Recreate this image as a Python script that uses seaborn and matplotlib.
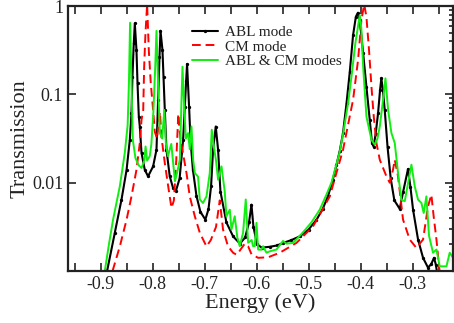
import matplotlib
matplotlib.use("Agg")
import matplotlib.pyplot as plt
import matplotlib.ticker as mticker
import seaborn as sns

sns.set_theme(style="ticks")
plt.rcParams['font.family'] = ['Liberation Serif', 'DejaVu Serif']

# ABL mode (black, dotted markers)
abl_energy = [-0.8875, -0.8727, -0.8598, -0.850, -0.8438, -0.8406, -0.8387, -0.8362, -0.8342,
              -0.831, -0.829, -0.8265, -0.8246, -0.8213, -0.815, -0.8087, -0.799, -0.7925,
              -0.7894, -0.7867, -0.7848, -0.781, -0.779, -0.7765, -0.7733, -0.767, -0.7606,
              -0.755, -0.748, -0.7413, -0.738, -0.7355, -0.7337, -0.7298, -0.7271, -0.7225,
              -0.7156, -0.708, -0.6985, -0.6925, -0.6875, -0.6837, -0.6785, -0.674, -0.6695,
              -0.658, -0.6452, -0.632, -0.622, -0.6145, -0.6098, -0.606, -0.599, -0.59,
              -0.5746, -0.56, -0.549, -0.533, -0.5169, -0.50, -0.4848, -0.473, -0.4625,
              -0.4535, -0.4465, -0.44, -0.4337, -0.427, -0.4208, -0.4144, -0.409, -0.4052,
              -0.4015, -0.395, -0.3887, -0.3823, -0.378, -0.375, -0.371, -0.3663, -0.3625,
              -0.36, -0.357, -0.3535, -0.348, -0.342, -0.335, -0.3246, -0.318, -0.3087,
              -0.304, -0.299, -0.2894, -0.2798, -0.2702, -0.264, -0.2587, -0.255, -0.252]
abl_trans = [0.0010, 0.0027, 0.00643, 0.014, 0.0306, 0.0614, 0.159, 0.379, 0.637,
             0.318, 0.134, 0.0562, 0.0433, 0.0217, 0.014, 0.0118, 0.0153, 0.0236,
             0.0867, 0.267, 0.526, 0.318, 0.159, 0.0668, 0.0236, 0.0118, 0.0087,
             0.0081, 0.0112, 0.0306, 0.0728, 0.141, 0.221, 0.0728, 0.0306, 0.0141,
             0.00708, 0.00468, 0.00382, 0.00501, 0.00912, 0.0236, 0.0433, 0.0236, 0.00794,
             0.00355, 0.00247, 0.00204, 0.0024, 0.00355, 0.00564, 0.00316, 0.0020, 0.00184,
             0.00188, 0.00195, 0.00208, 0.00224, 0.00247, 0.00295, 0.0038, 0.00501, 0.00708,
             0.0107, 0.0158, 0.0229, 0.0365, 0.0794, 0.178, 0.468, 0.759, 0.841,
             0.695, 0.292, 0.122, 0.0515, 0.0282, 0.0257, 0.0355, 0.0614, 0.112,
             0.152, 0.112, 0.0668, 0.0251, 0.0112, 0.00631, 0.00505, 0.00794, 0.0143,
             0.00891, 0.00495, 0.00227, 0.00141, 0.00109, 0.0012, 0.00141, 0.00117, 0.00089]

# CM mode (red dashed)
cm_energy = [-0.877, -0.863, -0.85, -0.8406, -0.831, -0.8246, -0.8213, -0.818, -0.8162,
             -0.8137, -0.8105, -0.8073, -0.8035, -0.799, -0.7958, -0.7915, -0.7858, -0.783,
             -0.7765, -0.77, -0.7637, -0.759, -0.7545, -0.7505, -0.7465, -0.7348, -0.7285,
             -0.7188, -0.709, -0.6963, -0.688, -0.678, -0.6708, -0.6645, -0.655, -0.6452,
             -0.6387, -0.6323, -0.6227, -0.6163, -0.6098, -0.597, -0.5778, -0.5554, -0.5233,
             -0.4912, -0.4592, -0.4337, -0.4144, -0.4048, -0.3983, -0.393, -0.3887, -0.3837,
             -0.379, -0.3746, -0.3694, -0.363, -0.3502, -0.3438, -0.3375, -0.3342, -0.3279,
             -0.3183, -0.3054, -0.2927, -0.2798, -0.2702, -0.2638, -0.2594, -0.254, -0.249,
             -0.246]
cm_trans = [0.0010, 0.0019, 0.00382, 0.0070, 0.014, 0.0281, 0.0515, 0.0668, 0.206,
            0.491, 1.05, 0.318, 0.134, 0.0668, 0.038, 0.0316, 0.0631, 0.0334,
            0.0167, 0.00912, 0.00518, 0.00631, 0.0178, 0.0603, 0.0316, 0.0129, 0.0070,
            0.00417, 0.00269, 0.0019, 0.00224, 0.00316, 0.00631, 0.00295, 0.00191, 0.00161,
            0.00153, 0.0017, 0.00204, 0.00191, 0.00155, 0.00141, 0.00143, 0.00161, 0.00208,
            0.00321, 0.0070, 0.0236, 0.0867, 0.245, 0.695, 1.05, 0.757, 0.318,
            0.122, 0.0562, 0.0281, 0.0182, 0.0118, 0.0100, 0.0141, 0.0182, 0.0118,
            0.00382, 0.00227, 0.00183, 0.00227, 0.0054, 0.00731, 0.00417, 0.00227, 0.00113,
            0.00079]

# ABL & CM modes (green)
both_energy = [-0.8925, -0.884, -0.876, -0.863, -0.8535, -0.848, -0.8455, -0.8433, -0.8406,
               -0.838, -0.833, -0.827, -0.8213, -0.816, -0.8135, -0.8105, -0.8055, -0.8023,
               -0.7985, -0.795, -0.7925, -0.7894, -0.786, -0.7815, -0.7775, -0.7745, -0.7705,
               -0.764, -0.757, -0.7515, -0.7477, -0.745, -0.7425, -0.7395, -0.736, -0.7317,
               -0.7285, -0.7252, -0.7218, -0.7188, -0.7125, -0.7092, -0.703, -0.6963, -0.690,
               -0.6862, -0.682, -0.678, -0.674, -0.6675, -0.6612, -0.658, -0.6515, -0.6483,
               -0.642, -0.637, -0.6323, -0.626, -0.6208, -0.6163, -0.6095, -0.6067, -0.6035,
               -0.6002, -0.597, -0.5906, -0.5875, -0.581, -0.5746, -0.5617, -0.549, -0.5425,
               -0.5298, -0.5105, -0.4945, -0.4785, -0.466, -0.456, -0.4485, -0.44, -0.4337,
               -0.424, -0.4175, -0.41, -0.4015, -0.3985, -0.395, -0.3887, -0.379, -0.3727,
               -0.3675, -0.363, -0.3567, -0.3521, -0.347, -0.3406, -0.3342, -0.3279, -0.3215,
               -0.315, -0.3085, -0.3021, -0.2958, -0.2894, -0.2829, -0.2785, -0.2734, -0.2683,
               -0.2606, -0.254, -0.2477, -0.2348, -0.2285, -0.222]
both_trans = [0.00095, 0.0020, 0.00382, 0.00912, 0.0217, 0.0447, 0.134, 0.649, 0.134,
              0.0306, 0.0191, 0.0158, 0.0147, 0.0178, 0.0257, 0.0178, 0.020, 0.0275,
              0.0631, 0.20, 0.525, 0.134, 0.0365, 0.0316, 0.0668, 0.0282, 0.020,
              0.0275, 0.0104, 0.0141, 0.0182, 0.0631, 0.206, 0.0794, 0.0316, 0.0365,
              0.024, 0.0433, 0.0178, 0.0129, 0.0117, 0.00646, 0.00589, 0.0070, 0.0129,
              0.0398, 0.0251, 0.0178, 0.0108, 0.0153, 0.00794, 0.00417, 0.00495, 0.00295,
              0.00417, 0.0024, 0.00191, 0.0027, 0.00646, 0.00209, 0.00224, 0.00191, 0.00191,
              0.00351, 0.00175, 0.00174, 0.00191, 0.00161, 0.00167, 0.00175, 0.00219, 0.00204,
              0.00208, 0.00275, 0.00355, 0.00495, 0.00724, 0.0100, 0.0145, 0.0224, 0.0355,
              0.0794, 0.158, 0.38, 0.791, 0.562, 0.206, 0.0562, 0.0306, 0.0269,
              0.0316, 0.0433, 0.0867, 0.152, 0.0668, 0.0365, 0.0281, 0.0129, 0.00643,
              0.00617, 0.0100, 0.016, 0.00912, 0.00643, 0.00589, 0.00454, 0.0070, 0.00251,
              0.00161, 0.00175, 0.00113, 0.00113, 0.00161, 0.00141]

fig, ax = plt.subplots(figsize=(4.54, 3.23), dpi=100)
fig.subplots_adjust(left=0.150, right=0.998, bottom=0.161, top=0.981)

sns.lineplot(x=abl_energy, y=abl_trans, ax=ax, sort=False, estimator=None,
             color="black", linewidth=1.5, marker="o", markersize=2.4,
             markeredgewidth=0, label="ABL mode")
sns.lineplot(x=cm_energy, y=cm_trans, ax=ax, sort=False, estimator=None,
             color="#ff0000", linewidth=1.4, dashes=(4.5, 2.5), label="CM mode")
sns.lineplot(x=both_energy, y=both_trans, ax=ax, sort=False, estimator=None,
             color="#11ee11", linewidth=1.4, label="ABL & CM modes")

ax.set_yscale("log")
ax.set_xlim(-0.9625, -0.222)
ax.set_ylim(0.001, 1)
ax.xaxis.set_major_locator(mticker.MultipleLocator(0.1))
ax.xaxis.set_minor_locator(mticker.MultipleLocator(0.05))
ax.xaxis.set_major_formatter(mticker.FuncFormatter(lambda v, p: f"{v:.1f}"))
ax.yaxis.set_major_locator(mticker.FixedLocator([0.01, 0.1, 1]))
ax.yaxis.set_major_formatter(mticker.FuncFormatter(lambda v, p: {0.01: "0.01", 0.1: "0.1", 1: "1"}.get(round(v, 3), "")))
ax.yaxis.set_minor_locator(mticker.LogLocator(base=10, subs=range(2, 10)))
ax.yaxis.set_minor_formatter(mticker.NullFormatter())

ax.tick_params(which="both", direction="in", top=True, right=True, labelsize=13,
               width=1.2, colors="#222222")
ax.tick_params(which="major", length=6)
ax.tick_params(axis="x", which="minor", length=6)
ax.tick_params(axis="y", which="minor", length=3, left=False)
for s in ax.spines.values():
    s.set_linewidth(1.6)
    s.set_color("#222222")

ax.set_xlabel("Energy (eV)", fontsize=16, labelpad=0, color="#222222")
ax.set_ylabel("Transmission", fontsize=16, labelpad=2, color="#222222")

leg = ax.legend(loc="upper left", bbox_to_anchor=(0.305, 0.95), frameon=False, fontsize=11,
                handlelength=1.7, handletextpad=0.5, labelspacing=0.05, borderaxespad=0)
for t in leg.get_texts():
    t.set_color("#222222")

fig.savefig("out.png", dpi=100)
